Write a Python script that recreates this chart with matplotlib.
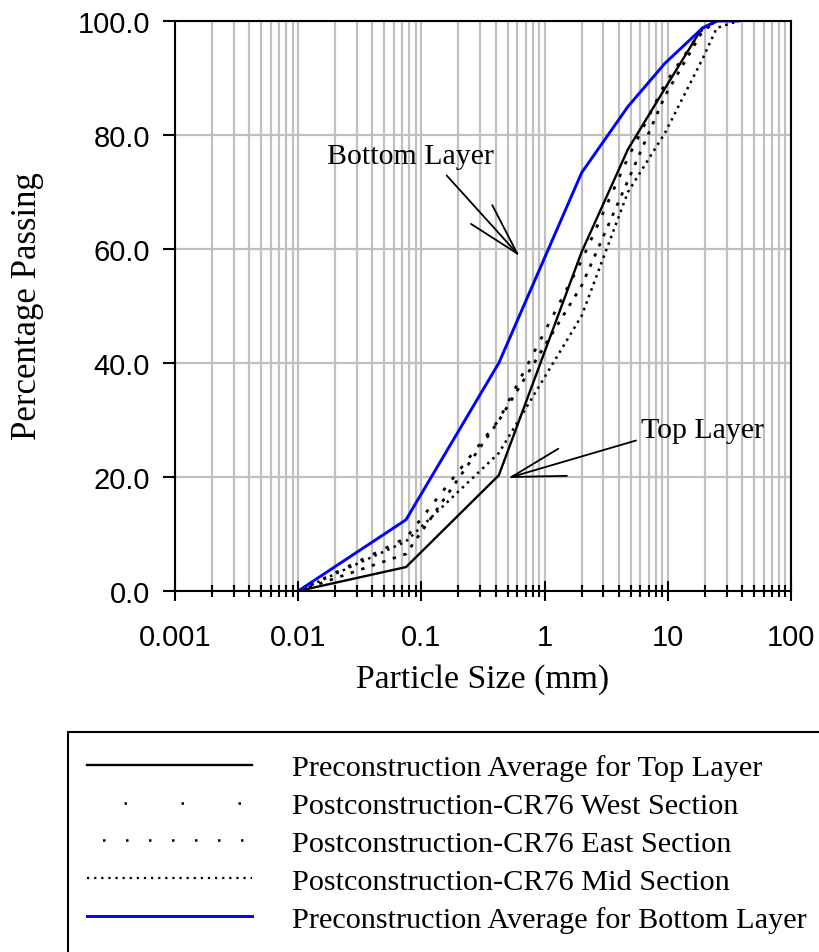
import matplotlib
matplotlib.use("Agg")
import matplotlib.pyplot as plt
from matplotlib.lines import Line2D
from matplotlib.patches import Rectangle
from matplotlib.ticker import FixedLocator, FuncFormatter, NullFormatter

# ---- gradation data (sieve size in mm, percent passing) ----
top_sizes = [0.01, 0.075, 0.425, 2.0, 4.75, 9.5, 19.0, 25.0]
top_pass = [0.0, 4.2, 20.3, 59.5, 77.5, 88.2, 98.8, 100.0]

west_sizes = [0.01, 0.075, 0.425, 2.0, 4.75, 9.5, 19.0, 25.0]
west_pass = [0.0, 9.3, 30.0, 58.0, 76.0, 89.0, 98.5, 100.0]

east_sizes = [0.01, 0.075, 0.425, 2.0, 4.75, 9.5, 19.0, 25.0]
east_pass = [0.0, 6.5, 29.9, 53.6, 72.0, 86.9, 98.1, 100.0]

mid_sizes = [0.01, 0.075, 0.425, 2.0, 4.75, 9.5, 19.0, 25.0, 37.5]
mid_pass = [0.0, 8.7, 24.2, 48.3, 70.0, 80.4, 93.2, 98.8, 100.0]

bottom_sizes = [0.01, 0.075, 0.425, 2.0, 4.75, 9.5, 19.0, 25.0, 37.5]
bottom_pass = [0.0, 12.5, 40.0, 73.4, 85.0, 92.6, 98.7, 100.0, 100.0]

series_labels = [
    "Preconstruction Average for Top Layer",
    "Postconstruction-CR76 West Section",
    "Postconstruction-CR76 East Section",
    "Postconstruction-CR76 Mid Section",
    "Preconstruction Average for Bottom Layer",
]

x_ticks = [0.001, 0.01, 0.1, 1, 10, 100]
x_ticklabels = ["0.001", "0.01", "0.1", "1", "10", "100"]
y_ticks = [0, 20, 40, 60, 80, 100]

SERIF = ["Liberation Serif", "DejaVu Serif"]
SANS = ["Liberation Sans", "DejaVu Sans"]

W, H = 820, 953
fig = plt.figure(figsize=(W / 100, H / 100), dpi=100)
ax = fig.add_axes([175 / W, (H - 592) / H, 616 / W, 570 / H])

ax.set_xscale("log")
ax.set_xlim(0.001, 100)
ax.set_ylim(0, 100)

minor = [k * 10.0 ** e for e in range(-3, 2) for k in range(2, 10)]
ax.xaxis.set_major_locator(FixedLocator(x_ticks))
ax.xaxis.set_minor_locator(FixedLocator(minor))
ax.xaxis.set_major_formatter(FuncFormatter(lambda v, p: x_ticklabels[x_ticks.index(v)] if v in x_ticks else ""))
ax.xaxis.set_minor_formatter(NullFormatter())
ax.yaxis.set_major_locator(FixedLocator(y_ticks))
ax.yaxis.set_major_formatter(FuncFormatter(lambda v, p: f"{v:.1f}"))

ax.grid(which="both", axis="x", color="#c0c0c0", lw=1.6)
ax.grid(which="major", axis="y", color="#c0c0c0", lw=1.6)
ax.set_axisbelow(True)

for s in ax.spines.values():
    s.set_linewidth(1.5)
    s.set_color("black")

ax.tick_params(axis="x", which="major", direction="inout", length=14, width=1.5,
               pad=16, labelsize=21)
ax.tick_params(axis="x", which="minor", direction="inout", length=9, width=1.5)
ax.tick_params(axis="y", which="major", direction="out", length=9, width=1.5,
               pad=9, labelsize=21)
for lab in ax.get_xticklabels() + ax.get_yticklabels():
    lab.set_fontfamily(SANS)

# ---- curves ----
ax.plot(top_sizes, top_pass, color="black", lw=1.7, solid_joinstyle="miter")
ax.plot(west_sizes, west_pass, color="black", lw=2.0, linestyle=(0, (1.2, 3.8)))
ax.plot(east_sizes, east_pass, color="black", lw=2.0, linestyle=(0, (1.2, 2.8)))
ax.plot(mid_sizes, mid_pass, color="black", lw=1.8, linestyle=(0, (1.0, 1.8)))
ax.plot(bottom_sizes, bottom_pass, color="#0000ff", lw=2.1)

# ---- layer callouts ----
ax.text(0.0808, 76.3, "Bottom Layer", family=SERIF, fontsize=21.5,
        ha="center", va="center")
for end in [(0.1604, 72.9), (0.2527, 64.4), (0.376, 67.7)]:
    ax.annotate("", xy=(0.600, 59.2), xytext=end,
                arrowprops=dict(arrowstyle="-", color="black", lw=1.3,
                                shrinkA=0, shrinkB=0))

ax.text(19.3, 28.3, "Top Layer", family=SERIF, fontsize=21.5,
        ha="center", va="center")
for end in [(1.292, 24.96), (1.52, 20.2), (5.52, 26.4)]:
    ax.annotate("", xy=(0.5385, 20.0), xytext=end,
                arrowprops=dict(arrowstyle="-", color="black", lw=1.3,
                                shrinkA=0, shrinkB=0))

# ---- axis titles ----
fig.text(483 / W, 1 - 680 / H, "Particle Size (mm)", family=SERIF,
         fontsize=24.3, ha="center", va="center")
fig.text(28 / W, 1 - 306 / H, "Percentage Passing", family=SERIF,
         fontsize=25, ha="center", va="center", rotation=90)

# ---- legend box ----
fig.patches.append(Rectangle((68 / W, -0.05), 1.0, (H - 733) / H + 0.05,
                             transform=fig.transFigure, fill=False,
                             edgecolor="black", lw=1.5))

handles = [
    Line2D([], [], color="black", lw=1.7),
    Line2D([], [], color="black", lw=1.8, linestyle=(8.0, (1, 21.8))),
    Line2D([], [], color="black", lw=1.8, linestyle=(3.0, (1, 8.2))),
    Line2D([], [], color="black", lw=1.6, linestyle=(0, (1, 2.2))),
    Line2D([], [], color="#0000ff", lw=2.1),
]
fig.legend(handles, series_labels, loc="upper left",
           bbox_to_anchor=(87 / W, 1 - 755 / H), frameon=False,
           prop={"family": SERIF, "size": 21.8}, handlelength=5.45,
           handletextpad=1.32, labelspacing=0.355, borderpad=0, borderaxespad=0)

fig.savefig("out.png", dpi=100)
